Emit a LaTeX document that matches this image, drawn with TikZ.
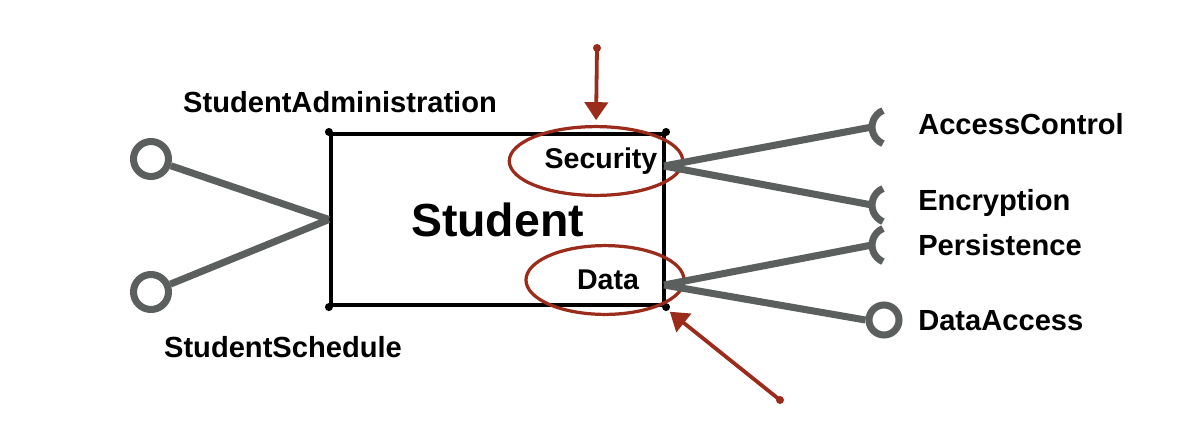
\documentclass[tikz,border=0pt]{standalone}
\usepackage{fontspec}
\setmainfont{Liberation Sans}
\usepackage{tikz}
\usetikzlibrary{shapes,arrows.meta,positioning,calc}
\definecolor{ifgray}{HTML}{5B5F5D}
\definecolor{markred}{HTML}{9B2B1B}
\tikzset{
  cdComp/.style={draw=black, line width=2.9pt, minimum width=8.325cm, minimum height=4.275cm,
    inner sep=0pt, font=\fontsize{33}{38}\selectfont\bfseries},
  cdPort/.style={ellipse, draw=markred, line width=2.3pt, minimum width=3.95cm, minimum height=1.72cm,
    inner sep=0pt, font=\fontsize{20.3}{24}\selectfont\bfseries},
  %% provided / required interfaces
  cdBall/.style={circle, draw=ifgray, line width=5pt, inner sep=0pt},
  cdLink/.style={draw=ifgray, line width=5pt},
  cdSock/.style={draw=ifgray, line width=5pt},
  %% labels
  cdLbl/.style={font=\fontsize{20.7}{24}\selectfont\bfseries, inner sep=0pt},
  %% red markers
  cdMark/.style={-{Triangle[length=0.45cm, width=0.58cm]}, draw=markred, line width=2.7pt},
}

\begin{document}
\begin{tikzpicture}[x=0.025cm, y=0.025cm]
\useasboundingbox (0,0) rectangle (1199,-435);

\node[cdComp] (student) at (497.5,-219.5) {Student};
\foreach \c in {north west, north east, south west, south east}
  \fill (student.\c) circle[radius=0.1cm];

\node[cdPort] (sec) at (596,-161) {\hspace{0.25cm}Security};
\node[cdPort] (dat) at (605,-280) {\hspace{0.15cm}Data};

\node[cdBall, minimum size=0.875cm] (adm) at (151,-159) {};
\node[cdBall, minimum size=0.875cm] (sch) at (151,-292) {};
\node[cdBall, minimum size=0.75cm]  (dac) at (884,-320) {};

\coordinate (secPort) at (664,-166);
\coordinate (datPort) at (664,-285);
\coordinate (accEnd) at (872,-127);
\coordinate (encEnd) at (872,-205);
\coordinate (perEnd) at (872,-245);

\draw[cdLink] (adm) -- (student.west);
\draw[cdLink] (sch) -- (student.west);
\draw[cdLink] (secPort) -- (accEnd);
\draw[cdLink] (secPort) -- (encEnd);
\draw[cdLink] (datPort) -- (perEnd);
\draw[cdLink] (datPort) -- (dac.west);

\foreach \s in {accEnd, encEnd, perEnd}
  \draw[cdSock] ([shift={(11,16.5)}]\s) arc[start angle=113, end angle=247, radius=0.45cm];

\node[cdLbl, anchor=base] (admLbl) at (340,-112) {StudentAdministration};
\node[cdLbl, anchor=base] (schLbl) at (283,-357) {StudentSchedule};
\node[cdLbl, anchor=base west] (accLbl) at (918,-134) {AccessControl};
\node[cdLbl, anchor=base west] (encLbl) at (918,-210) {Encryption};
\node[cdLbl, anchor=base west] (perLbl) at (918,-255) {Persistence};
\node[cdLbl, anchor=base west] (dacLbl) at (918,-330) {DataAccess};

% red markers
\coordinate (secTail) at (597,-48);
\coordinate (datTail) at (780,-400);
\draw[cdMark, shorten >=0.12cm] (secTail) -- (sec.north);
\draw[cdMark, shorten >=0.25cm] (datTail) -- (dat.south east);
\fill[markred] (secTail) circle[radius=0.1cm];
\fill[markred] (datTail) circle[radius=0.1cm];

\end{tikzpicture}
\end{document}
